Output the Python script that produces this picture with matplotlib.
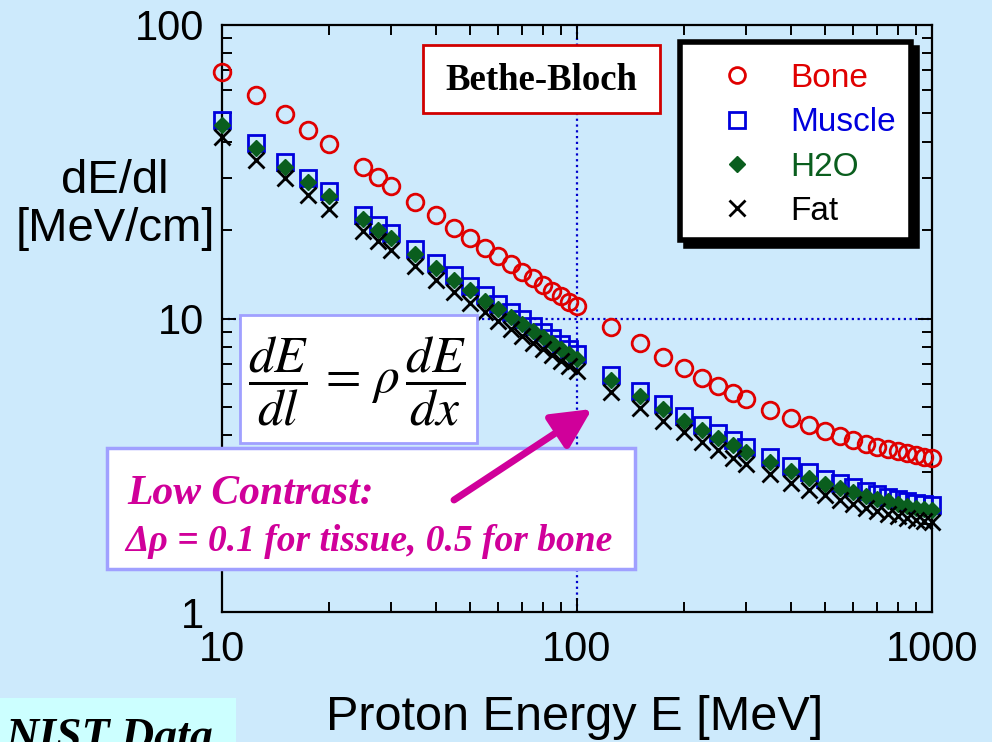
import matplotlib
matplotlib.use("Agg")
import matplotlib.pyplot as plt
from matplotlib.patches import Rectangle, FancyArrowPatch

plt.rcParams['mathtext.fontset'] = 'stix'

# ---------------- data (NIST PSTAR energies) ----------------
energy = [10, 12.5, 15, 17.5, 20, 25, 27.5, 30, 35, 40, 45, 50, 55, 60, 65, 70, 75, 80,
          85, 90, 95, 100, 125, 150, 175, 200, 225, 250, 275, 300, 350, 400, 450, 500,
          550, 600, 650, 700, 750, 800, 850, 900, 950, 1000]

bone = [69.0, 57.6, 49.7, 43.9, 39.4, 32.8, 30.4, 28.3, 25.0, 22.5, 20.4, 18.8, 17.4, 16.3,
        15.3, 14.4, 13.7, 13.0, 12.4, 11.9, 11.4, 11.0, 9.35, 8.22, 7.40, 6.78, 6.29, 5.91,
        5.58, 5.32, 4.89, 4.58, 4.34, 4.14, 3.99, 3.86, 3.75, 3.66, 3.59, 3.53, 3.47, 3.42,
        3.38, 3.35]

muscle = [47.5, 39.7, 34.2, 30.2, 27.1, 22.6, 20.9, 19.5, 17.2, 15.5, 14.1, 12.9, 12.0, 11.2,
          10.5, 9.94, 9.43, 8.97, 8.57, 8.20, 7.88, 7.58, 6.44, 5.66, 5.10, 4.67, 4.33, 4.07,
          3.84, 3.66, 3.37, 3.15, 2.99, 2.85, 2.75, 2.66, 2.59, 2.52, 2.47, 2.43, 2.39, 2.36,
          2.33, 2.31]

water = [45.7, 38.2, 32.9, 29.1, 26.1, 21.8, 20.1, 18.8, 16.6, 14.9, 13.5, 12.5, 11.5, 10.8,
         10.1, 9.56, 9.06, 8.63, 8.24, 7.89, 7.57, 7.29, 6.19, 5.45, 4.90, 4.49, 4.17, 3.91,
         3.70, 3.52, 3.24, 3.03, 2.87, 2.74, 2.64, 2.56, 2.49, 2.43, 2.38, 2.34, 2.30, 2.27,
         2.24, 2.22]

fat = [41.6, 34.7, 30.0, 26.4, 23.7, 19.8, 18.3, 17.1, 15.1, 13.5, 12.3, 11.3, 10.5, 9.81,
       9.20, 8.70, 8.25, 7.85, 7.49, 7.18, 6.89, 6.63, 5.63, 4.95, 4.46, 4.09, 3.79, 3.56,
       3.36, 3.20, 2.95, 2.76, 2.61, 2.50, 2.40, 2.33, 2.26, 2.21, 2.16, 2.12, 2.09, 2.06,
       2.04, 2.02]

series_names = ["Bone", "Muscle", "H2O", "Fat"]
x_ticks = [10, 100, 1000]
x_ticklabels = ["10", "100", "1000"]
y_ticks = [1, 10, 100]
y_ticklabels = ["1", "10", "100"]
ref_energy = 100
ref_dedl = 10

# ---------------- style ----------------
BG = "#cdeafc"
RED = "#e00000"
BLUE = "#0000dd"
GREEN = "#0a5e1e"
MAG = "#d0009a"
LAV = "#a0a0ff"
SANS = ["Liberation Sans", "DejaVu Sans"]
SERIF = ["Liberation Serif", "DejaVu Serif"]

W, H = 992, 742
fig = plt.figure(figsize=(W / 100, H / 100), dpi=100, facecolor=BG)


def px(x, y):
    return (x / W, 1 - y / H)


l, b = px(222, 612)
r, t = px(932, 25)
ax = fig.add_axes([l, b, r - l, t - b])
ax.set_facecolor(BG)
ax.set_xscale('log')
ax.set_yscale('log')
ax.set_xlim(10, 1000)
ax.set_ylim(1, 100)

ax.axvline(ref_energy, color="#0000cc", lw=1.6, ls=(0, (1, 1.6)), zorder=1)
ax.axhline(ref_dedl, color="#0000cc", lw=1.6, ls=(0, (1, 1.6)), zorder=1)

h_bone, = ax.plot(energy, bone, ls='none', marker='o', ms=12, mfc='none', mec=RED, mew=2,
                  clip_on=False, zorder=3)
h_mus, = ax.plot(energy, muscle, ls='none', marker='s', ms=11.5, mfc='none', mec=BLUE, mew=2,
                 clip_on=False, zorder=3)
h_h2o, = ax.plot(energy, water, ls='none', marker='D', ms=8.5, mfc=GREEN, mec=GREEN, mew=1,
                 clip_on=False, zorder=4)
h_fat, = ax.plot(energy, fat, ls='none', marker='x', ms=12, mec='black', mew=2,
                 clip_on=False, zorder=5)

for s in ax.spines.values():
    s.set_linewidth(1.6)
ax.tick_params(which='both', direction='in', top=True, right=True, width=1.4, color='black')
ax.tick_params(which='major', length=10, labelsize=30)
ax.tick_params(which='minor', length=7)
ax.tick_params(axis='y', which='major', pad=13)
ax.tick_params(axis='x', which='major', pad=13)
ax.set_xticks(x_ticks, x_ticklabels)
ax.set_yticks(y_ticks, y_ticklabels)
for lab in ax.get_xticklabels() + ax.get_yticklabels():
    lab.set_fontfamily(SANS)
ax.xaxis.set_minor_formatter(plt.NullFormatter())
ax.yaxis.set_minor_formatter(plt.NullFormatter())

# axis labels
fig.text(*px(115, 205), "dE/dl\n[MeV/cm]", ha='center', va='center', fontsize=34,
         family=SANS, linespacing=1.1)
fig.text(*px(575, 717), "Proton Energy E [MeV]", ha='center', va='center', fontsize=35,
         family=SANS)

# Bethe-Bloch box
x0, y0 = px(423, 113)
x1, y1 = px(660, 45)
fig.add_artist(Rectangle((x0, y0), x1 - x0, y1 - y0, transform=fig.transFigure,
                         facecolor='white', edgecolor='#d00000', lw=2, zorder=2))
fig.text(*px(541, 80), "Bethe-Bloch", ha='center', va='center', fontsize=26.5,
         family=SERIF, weight='bold', zorder=3)

# legend frame with shadow
x0, y0 = px(680, 240)
x1, y1 = px(911, 42)
fig.add_artist(Rectangle((x0 + 6 / W, y0 - 6 / H), x1 - x0, y1 - y0, transform=fig.transFigure,
                         facecolor='black', edgecolor='black', lw=4, zorder=2))
fig.add_artist(Rectangle((x0, y0), x1 - x0, y1 - y0, transform=fig.transFigure,
                         facecolor='white', edgecolor='black', lw=4, zorder=2))
leg = fig.legend([h_bone, h_mus, h_h2o, h_fat], series_names, loc='upper left',
                 bbox_to_anchor=px(712, 63), bbox_transform=fig.transFigure,
                 frameon=False, prop={'family': SANS, 'size': 24},
                 borderpad=0, borderaxespad=0, handlelength=1.5, handletextpad=0.84,
                 labelspacing=0.40, markerscale=0.95,
                 labelcolor=[RED, BLUE, GREEN, 'black'])
leg.set_zorder(6)

# equation box
x0, y0 = px(240, 443)
x1, y1 = px(477, 315)
fig.add_artist(Rectangle((x0, y0), x1 - x0, y1 - y0, transform=fig.transFigure,
                         facecolor='white', edgecolor=LAV, lw=2, zorder=2))
fig.text(*px(357, 381), r"$\dfrac{dE}{dl}\,=\,\rho\,\dfrac{dE}{dx}$", ha='center',
         va='center', fontsize=37, zorder=3)

# Low contrast box
x0, y0 = px(107, 569)
x1, y1 = px(635, 448)
fig.add_artist(Rectangle((x0, y0), x1 - x0, y1 - y0, transform=fig.transFigure,
                         facecolor='white', edgecolor=LAV, lw=2.5, zorder=2))
fig.text(*px(127, 504), "Low Contrast:", ha='left', va='baseline', fontsize=30,
         family=SERIF, weight='bold', style='italic', color=MAG, zorder=3)
fig.text(*px(125, 551), "\u0394\u03c1 = 0.1 for tissue, 0.5 for bone", ha='left',
         va='baseline', fontsize=27, family=SERIF, weight='bold', style='italic',
         color=MAG, zorder=3)

# arrow
fig.add_artist(FancyArrowPatch(px(454, 500), px(592, 409), transform=fig.transFigure,
                               arrowstyle='-|>,head_length=1.2,head_width=0.6',
                               mutation_scale=20, lw=5, color=MAG, shrinkA=0, shrinkB=0,
                               zorder=4))

# NIST data box
x0, y0 = px(0, 742)
x1, y1 = px(236, 698)
fig.add_artist(Rectangle((x0, y0), x1 - x0, y1 - y0, transform=fig.transFigure,
                         facecolor='#ccffff', edgecolor='none', zorder=2))
fig.text(*px(5, 750), "NIST Data", ha='left', va='baseline', fontsize=33,
         family=SERIF, weight='bold', style='italic', color='black', zorder=3)

fig.savefig("out.png", dpi=100, facecolor=BG)
